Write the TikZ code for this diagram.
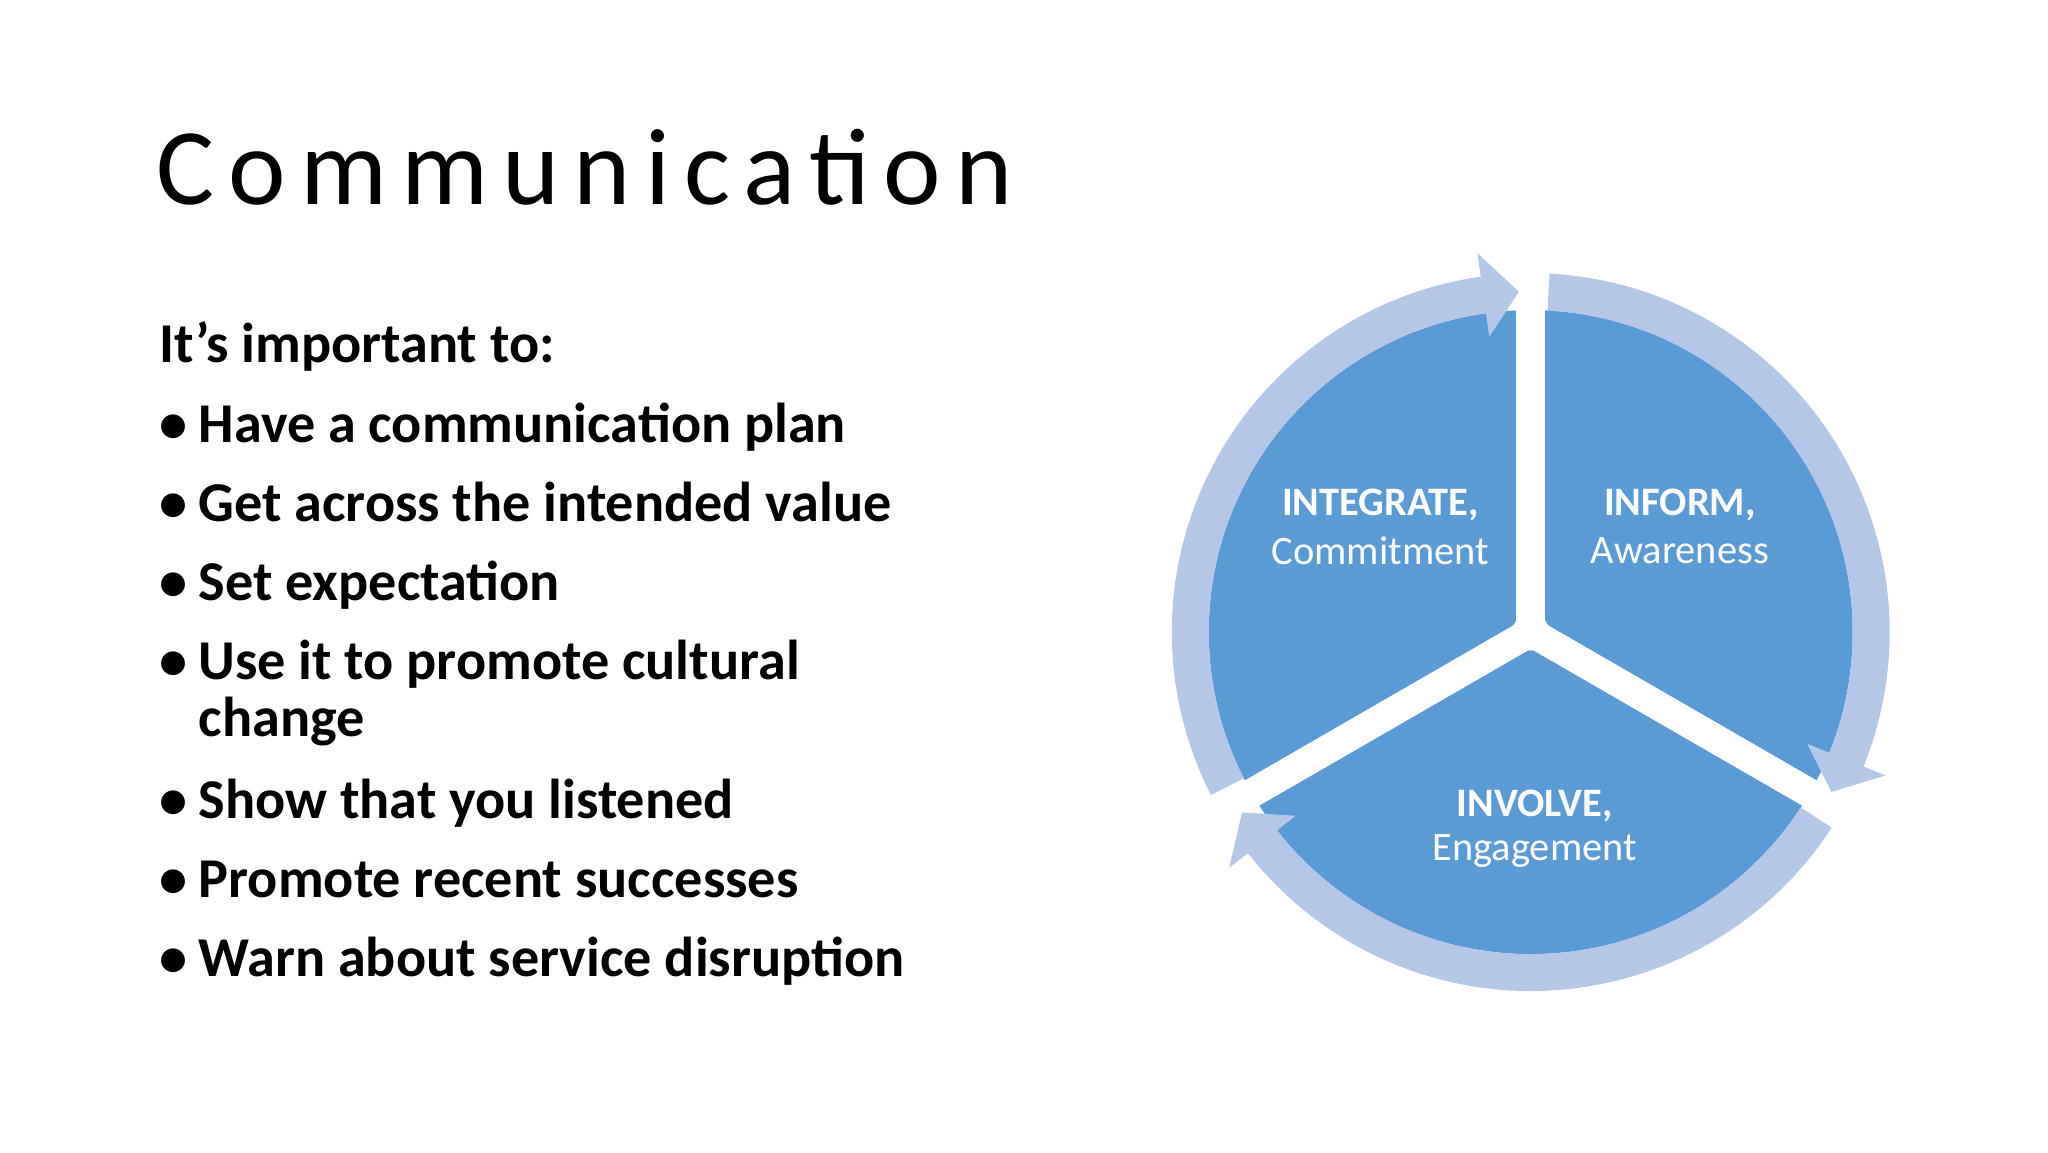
\documentclass[tikz,border=0pt]{standalone}
\usepackage{fontspec}
\setmainfont{Carlito}
\newfontfamily\titlefont[LetterSpace=13]{Carlito}
\definecolor{pie}{HTML}{5B9BD5}
\definecolor{ring}{HTML}{B4C7E7}
\newcommand{\ringarrow}[2]{%
  \fill[ring] (#1:244) arc[start angle=#1,end angle=#2+6,radius=244] -- (#2+6:226) -- (#2:258) -- (#2+6:290) -- (#2+6:272) arc[start angle=#2+6,end angle=#1,radius=272] -- cycle;}
\begin{document}
\begin{tikzpicture}[x=0.0132cm,y=-0.0132cm,
  bul/.style={anchor=base west,inner sep=0,font=\fontsize{16}{18}\selectfont\bfseries},
  lab/.style={text=white,inner sep=0,font=\fontsize{11.5}{13}\selectfont}]
\fill[white] (0,0) rectangle (1552,873);
\useasboundingbox (0,0) rectangle (1552,873);
\node[anchor=base west,inner sep=0,font=\fontsize{31}{36}\selectfont\titlefont] (title) at (118,155) {Communication};
\node[bul] (intro) at (120,275) {It’s important to:};
\foreach \t/\y [count=\i] in {Have a communication plan/335,Get across the intended value/395,Set expectation/455,Use it to promote cultural/515,Show that you listened/620,Promote recent successes/680,Warn about service disruption/740}{
  \node[bul] (b\i) at (120,\y) {•};
  \node[bul] (t\i) at (150,\y) {\t};
}
\node[bul] (t4b) at (150,558) {change};
\begin{scope}[shift={(1160,479)},yscale=-1]
  \fill[pie] (0,0) circle[radius=244];
  \foreach \a in {90,210,330} \draw[white,line width=22*0.0132cm] (0,0) -- (\a:250);
  \fill[white] (0,0) circle[radius=14];
  \ringarrow{207}{92}
  \ringarrow{87}{-28}
  \ringarrow{327}{212}
\end{scope}
\node[lab] (l1a) at (1046,383) {\bfseries INTEGRATE,};
\node[lab] (l1b) at (1046,417) {Commitment};
\node[lab] (l2a) at (1273,383) {\bfseries INFORM,};
\node[lab] (l2b) at (1273,417) {Awareness};
\node[lab] (l3a) at (1163,611) {\bfseries INVOLVE,};
\node[lab] (l3b) at (1163,645) {Engagement};
\end{tikzpicture}
\end{document}
